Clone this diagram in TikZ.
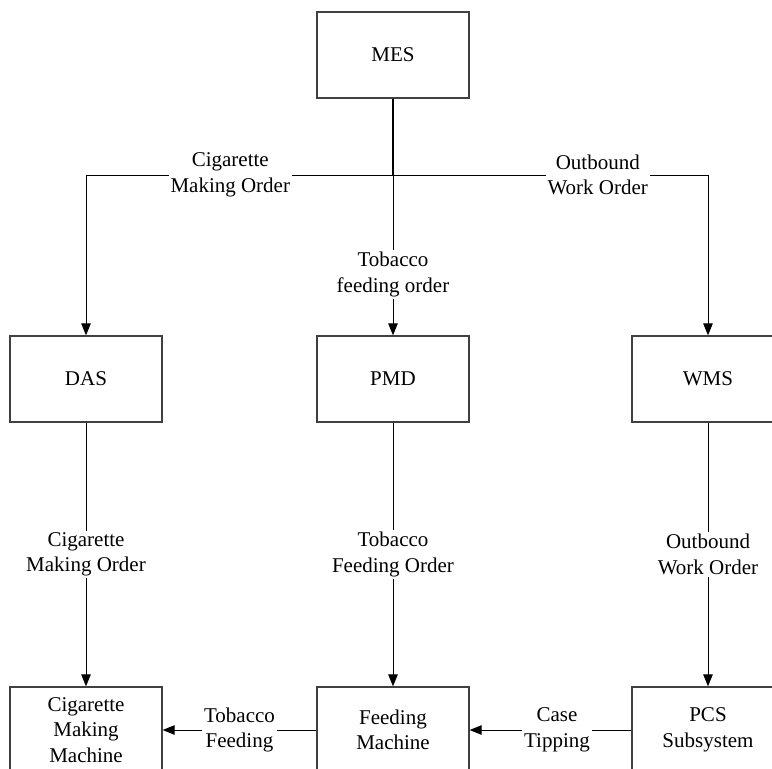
\documentclass[tikz,border=0pt]{standalone}
\usepackage{fontspec}
\setmainfont{Liberation Serif}
\usetikzlibrary{arrows.meta}
\begin{document}
\begin{tikzpicture}[x=1pt,y=-1pt,
  box/.style={draw=black!75,line width=1.3pt,minimum width=152pt,minimum height=86pt,inner sep=0pt,align=center,font=\fontsize{21}{25.5}\selectfont},
  conn/.style={line width=0.9pt,-{Triangle[length=12pt,width=9.5pt]}},
  lbl/.style={fill=white,inner sep=2pt,align=center,font=\fontsize{21}{25.5}\selectfont}]
\useasboundingbox (0,0) rectangle (772,769);
\clip (0,0) rectangle (772,769);
\node[box] (mes) at (393,55) {MES};
\node[box] (das) at (86,379) {DAS};
\node[box] (pmd) at (393,379) {PMD};
\node[box] (wms) at (708,379) {WMS};
\node[box] (cmm) at (86,730) {Cigarette\\Making\\Machine};
\node[box] (fm) at (393,730) {Feeding\\Machine};
\node[box] (pcs) at (708,730) {PCS\\Subsystem};
\coordinate (j) at (393,175);
\draw[line width=1.6pt] (mes.south) -- (j);
\draw[conn] (j) -- (86,175) node[lbl,pos=0.53] {Cigarette\\Making Order} -- (das.north);
\draw[conn] (j) -- (708,175) node[lbl,pos=0.65] {Outbound\\Work Order} -- (wms.north);
\draw[conn] (j) -- (pmd.north) node[lbl,pos=0.62] {Tobacco\\feeding order};
\draw[conn] (das.south) -- (cmm.north) node[lbl,midway] {Cigarette\\Making Order};
\draw[conn] (pmd.south) -- (fm.north) node[lbl,midway] {Tobacco\\Feeding Order};
\draw[conn] (wms.south) -- (pcs.north) node[lbl,midway] {Outbound\\Work Order};
\draw[conn] (pcs.west) -- (fm.east) node[lbl,pos=0.46] {Case\\Tipping};
\draw[conn] (fm.west) -- (cmm.east) node[lbl,midway] {Tobacco\\Feeding};
\end{tikzpicture}
\end{document}
